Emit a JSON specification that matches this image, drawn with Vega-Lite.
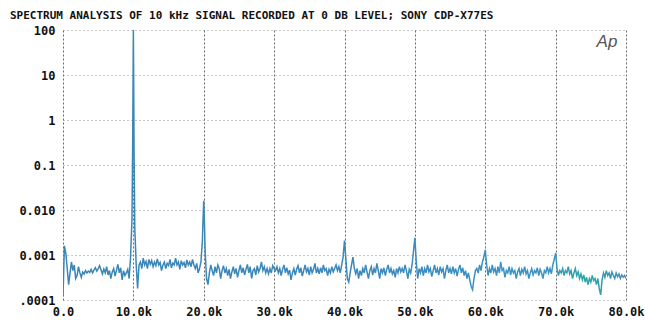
{
"$schema": "https://vega.github.io/schema/vega-lite/v6.json",
"width": 563, "height": 270,
"autosize": "none",
"padding": {"left": 63, "top": 30, "right": 19, "bottom": 24},
"background": "white",
"title": {"text": "SPECTRUM ANALYSIS OF 10 kHz SIGNAL RECORDED AT 0 DB LEVEL; SONY CDP-X77ES", "anchor": "start", "frame": "group", "dx": -53, "offset": 3, "font": "DejaVu Sans Mono", "fontSize": 11, "fontWeight": "bold", "color": "#111"},
"config": {"view": {"stroke": null}},
"layer": [
{
"data": {"values": [
{"f":0,"v":0.00012},{"f":200,"v":0.0016},{"f":400,"v":0.0011},{"f":600,"v":0.0005},{"f":800,"v":0.00022},{"f":1000,"v":0.0004},{"f":1200,"v":0.0007},{"f":1400,"v":0.00045},{"f":1600,"v":0.0006},{"f":1800,"v":0.0003},
{"f":2000,"v":0.00035},{"f":2200,"v":0.00055},{"f":2400,"v":0.0004},{"f":2600,"v":0.00032},{"f":2800,"v":0.00042},{"f":3000,"v":0.00038},{"f":3200,"v":0.00045},{"f":3400,"v":0.0004},{"f":3600,"v":0.00044},{"f":3800,"v":0.00041},
{"f":4000,"v":0.00048},{"f":4200,"v":0.0004},{"f":4400,"v":0.00046},{"f":4600,"v":0.00052},{"f":4800,"v":0.00044},{"f":5000,"v":0.0005},{"f":5200,"v":0.00058},{"f":5400,"v":0.00047},{"f":5600,"v":0.00038},{"f":5800,"v":0.00049},
{"f":6000,"v":0.0004},{"f":6200,"v":0.00055},{"f":6400,"v":0.00036},{"f":6600,"v":0.00045},{"f":6800,"v":0.0003},{"f":7000,"v":0.00042},{"f":7200,"v":0.0005},{"f":7400,"v":0.00034},{"f":7600,"v":0.00046},{"f":7800,"v":0.00062},
{"f":8000,"v":0.0004},{"f":8200,"v":0.00052},{"f":8400,"v":0.00028},{"f":8600,"v":0.00045},{"f":8800,"v":0.00035},{"f":9000,"v":0.0004},{"f":9200,"v":0.00048},{"f":9400,"v":0.0003},{"f":9600,"v":0.0009},{"f":9800,"v":0.006},
{"f":9900,"v":0.3},{"f":10000,"v":100},{"f":10100,"v":0.2},{"f":10200,"v":0.004},{"f":10400,"v":0.0006},{"f":10600,"v":0.00018},{"f":10800,"v":0.0006},
{"f":11000,"v":0.0007},{"f":11200,"v":0.0005},{"f":11400,"v":0.00085},{"f":11600,"v":0.0006},{"f":11800,"v":0.00072},{"f":12000,"v":0.0005},{"f":12200,"v":0.0008},{"f":12400,"v":0.00062},{"f":12600,"v":0.00075},{"f":12800,"v":0.00055},
{"f":13000,"v":0.0007},{"f":13200,"v":0.00058},{"f":13400,"v":0.00082},{"f":13600,"v":0.0006},{"f":13800,"v":0.00068},{"f":14000,"v":0.00045},{"f":14200,"v":0.0006},{"f":14400,"v":0.0007},{"f":14600,"v":0.0005},{"f":14800,"v":0.00065},
{"f":15000,"v":0.00058},{"f":15200,"v":0.0008},{"f":15400,"v":0.00052},{"f":15600,"v":0.00066},{"f":15800,"v":0.0006},{"f":16000,"v":0.00085},{"f":16200,"v":0.0006},{"f":16400,"v":0.0007},{"f":16600,"v":0.00048},{"f":16800,"v":0.00075},
{"f":17000,"v":0.0006},{"f":17200,"v":0.00068},{"f":17400,"v":0.00052},{"f":17600,"v":0.00078},{"f":17800,"v":0.0006},{"f":18000,"v":0.0007},{"f":18200,"v":0.00055},{"f":18400,"v":0.0008},{"f":18600,"v":0.0006},{"f":18800,"v":0.0005},
{"f":19000,"v":0.00065},{"f":19200,"v":0.0004},{"f":19400,"v":0.0005},{"f":19600,"v":0.0007},{"f":19800,"v":0.002},{"f":19900,"v":0.006},{"f":20000,"v":0.016},{"f":20100,"v":0.005},{"f":20200,"v":0.0012},{"f":20400,"v":0.0003},{"f":20600,"v":0.00022},
{"f":20800,"v":0.0004},{"f":21000,"v":0.0006},{"f":21200,"v":0.00045},{"f":21400,"v":0.00035},{"f":21600,"v":0.00055},{"f":21800,"v":0.0004},{"f":22000,"v":0.0006},{"f":22200,"v":0.0005},{"f":22400,"v":0.0003},{"f":22600,"v":0.00045},
{"f":22800,"v":0.00058},{"f":23000,"v":0.0004},{"f":23200,"v":0.0005},{"f":23400,"v":0.00035},{"f":23600,"v":0.00048},{"f":23800,"v":0.0003},{"f":24000,"v":0.00042},{"f":24200,"v":0.00055},{"f":24400,"v":0.00038},{"f":24600,"v":0.0005},
{"f":24800,"v":0.00032},{"f":25000,"v":0.00045},{"f":25200,"v":0.0006},{"f":25400,"v":0.0004},{"f":25600,"v":0.00052},{"f":25800,"v":0.00036},{"f":26000,"v":0.00048},{"f":26200,"v":0.00062},{"f":26400,"v":0.0004},{"f":26600,"v":0.00055},
{"f":26800,"v":0.0003},{"f":27000,"v":0.00045},{"f":27200,"v":0.0005},{"f":27400,"v":0.00036},{"f":27600,"v":0.00058},{"f":27800,"v":0.00042},{"f":28000,"v":0.0005},{"f":28200,"v":0.0007},{"f":28400,"v":0.00045},{"f":28600,"v":0.00055},
{"f":28800,"v":0.0004},{"f":29000,"v":0.0005},{"f":29200,"v":0.00038},{"f":29400,"v":0.0005},{"f":29600,"v":0.0004},{"f":29800,"v":0.00058},{"f":30000,"v":0.0005},{"f":30200,"v":0.00045},
{"f":30400,"v":0.00055},{"f":30600,"v":0.0004},{"f":30800,"v":0.0005},{"f":31000,"v":0.00035},{"f":31200,"v":0.00048},{"f":31400,"v":0.0006},{"f":31600,"v":0.0004},{"f":31800,"v":0.00052},{"f":32000,"v":0.00038},{"f":32200,"v":0.00046},
{"f":32400,"v":0.00028},{"f":32600,"v":0.0004},{"f":32800,"v":0.0005},{"f":33000,"v":0.00036},{"f":33200,"v":0.00048},{"f":33400,"v":0.00058},{"f":33600,"v":0.0004},{"f":33800,"v":0.00052},{"f":34000,"v":0.00034},{"f":34200,"v":0.00045},
{"f":34400,"v":0.0006},{"f":34600,"v":0.00042},{"f":34800,"v":0.0005},{"f":35000,"v":0.00036},{"f":35200,"v":0.00055},{"f":35400,"v":0.0004},{"f":35600,"v":0.00048},{"f":35800,"v":0.00065},{"f":36000,"v":0.0004},{"f":36200,"v":0.0005},
{"f":36400,"v":0.00038},{"f":36600,"v":0.00052},{"f":36800,"v":0.0004},{"f":37000,"v":0.0006},{"f":37200,"v":0.00045},{"f":37400,"v":0.0005},{"f":37600,"v":0.00035},{"f":37800,"v":0.00048},{"f":38000,"v":0.0004},{"f":38200,"v":0.00055},
{"f":38400,"v":0.00042},{"f":38600,"v":0.0005},{"f":38800,"v":0.0006},{"f":39000,"v":0.00045},{"f":39200,"v":0.00055},{"f":39400,"v":0.0004},{"f":39600,"v":0.0006},{"f":39800,"v":0.0009},{"f":40000,"v":0.0021},{"f":40200,"v":0.0008},{"f":40400,"v":0.0003},{"f":40600,"v":0.00025},
{"f":40800,"v":0.0004},{"f":41000,"v":0.0006},{"f":41200,"v":0.0009},{"f":41400,"v":0.0005},{"f":41600,"v":0.00038},{"f":41800,"v":0.0005},{"f":42000,"v":0.0003},{"f":42200,"v":0.00045},{"f":42400,"v":0.00035},{"f":42600,"v":0.0005},
{"f":42800,"v":0.0004},{"f":43000,"v":0.0006},{"f":43200,"v":0.00042},{"f":43400,"v":0.0003},{"f":43600,"v":0.00045},{"f":43800,"v":0.00055},{"f":44000,"v":0.00036},{"f":44200,"v":0.0005},{"f":44400,"v":0.0004},{"f":44600,"v":0.00065},
{"f":44800,"v":0.00045},{"f":45000,"v":0.0003},{"f":45200,"v":0.0005},{"f":45400,"v":0.0004},{"f":45600,"v":0.00052},{"f":45800,"v":0.00035},{"f":46000,"v":0.00048},{"f":46200,"v":0.0006},{"f":46400,"v":0.0004},{"f":46600,"v":0.0005},
{"f":46800,"v":0.00038},{"f":47000,"v":0.00045},{"f":47200,"v":0.00032},{"f":47400,"v":0.0005},{"f":47600,"v":0.0004},{"f":47800,"v":0.00055},{"f":48000,"v":0.00042},{"f":48200,"v":0.0005},{"f":48400,"v":0.0004},{"f":48600,"v":0.0006},
{"f":48800,"v":0.00045},{"f":49000,"v":0.0003},{"f":49200,"v":0.00048},{"f":49400,"v":0.0004},{"f":49600,"v":0.0006},{"f":49800,"v":0.0012},{"f":50000,"v":0.0024},{"f":50200,"v":0.0007},{"f":50400,"v":0.0003},{"f":50600,"v":0.0005},
{"f":50800,"v":0.0004},{"f":51000,"v":0.00055},{"f":51200,"v":0.00035},{"f":51400,"v":0.0005},{"f":51600,"v":0.0004},{"f":51800,"v":0.0006},{"f":52000,"v":0.00042},{"f":52200,"v":0.0005},{"f":52400,"v":0.00033},{"f":52600,"v":0.00045},
{"f":52800,"v":0.0006},{"f":53000,"v":0.0004},{"f":53200,"v":0.0005},{"f":53400,"v":0.00036},{"f":53600,"v":0.00055},{"f":53800,"v":0.00042},{"f":54000,"v":0.0005},{"f":54200,"v":0.0003},{"f":54400,"v":0.00045},{"f":54600,"v":0.0006},
{"f":54800,"v":0.0004},{"f":55000,"v":0.0005},{"f":55200,"v":0.00038},{"f":55400,"v":0.00055},{"f":55600,"v":0.0004},{"f":55800,"v":0.0005},{"f":56000,"v":0.00034},{"f":56200,"v":0.00048},{"f":56400,"v":0.0006},{"f":56600,"v":0.0004},
{"f":56800,"v":0.00052},{"f":57000,"v":0.00035},{"f":57200,"v":0.00045},{"f":57400,"v":0.0003},{"f":57600,"v":0.0004},{"f":57800,"v":0.00028},{"f":58000,"v":0.0002},{"f":58200,"v":0.00017},{"f":58400,"v":0.0003},{"f":58600,"v":0.00045},
{"f":58800,"v":0.0005},{"f":59000,"v":0.0004},{"f":59200,"v":0.0006},{"f":59400,"v":0.00045},{"f":59600,"v":0.0007},{"f":59800,"v":0.0009},{"f":60000,"v":0.0013},{"f":60200,"v":0.0006},{"f":60400,"v":0.00035},{"f":60600,"v":0.0005},
{"f":60800,"v":0.0004},{"f":61000,"v":0.0006},{"f":61200,"v":0.00042},{"f":61400,"v":0.0005},{"f":61600,"v":0.00035},{"f":61800,"v":0.00055},{"f":62000,"v":0.0004},{"f":62200,"v":0.0007},{"f":62400,"v":0.00045},{"f":62600,"v":0.0005},
{"f":62800,"v":0.00032},{"f":63000,"v":0.00045},{"f":63200,"v":0.0004},{"f":63400,"v":0.00055},{"f":63600,"v":0.00036},{"f":63800,"v":0.0005},{"f":64000,"v":0.0004},{"f":64200,"v":0.00045},{"f":64400,"v":0.0003},{"f":64600,"v":0.00042},
{"f":64800,"v":0.0005},{"f":65000,"v":0.00035},{"f":65200,"v":0.00048},{"f":65400,"v":0.0004},{"f":65600,"v":0.00055},{"f":65800,"v":0.00038},{"f":66000,"v":0.00045},{"f":66200,"v":0.0003},{"f":66400,"v":0.0004},{"f":66600,"v":0.0005},
{"f":66800,"v":0.00036},{"f":67000,"v":0.00045},{"f":67200,"v":0.0004},{"f":67400,"v":0.00052},{"f":67600,"v":0.00035},{"f":67800,"v":0.00048},{"f":68000,"v":0.0004},{"f":68200,"v":0.0003},{"f":68400,"v":0.00045},{"f":68600,"v":0.0004},
{"f":68800,"v":0.00055},{"f":69000,"v":0.0004},{"f":69200,"v":0.0005},{"f":69400,"v":0.00038},{"f":69600,"v":0.0006},{"f":69800,"v":0.0008},{"f":70000,"v":0.0011},{"f":70200,"v":0.0005},{"f":70400,"v":0.00035},{"f":70600,"v":0.00045},
{"f":70800,"v":0.0004},{"f":71000,"v":0.0005},{"f":71200,"v":0.00035},{"f":71400,"v":0.00045},{"f":71600,"v":0.0004},{"f":71800,"v":0.00055},{"f":72000,"v":0.00038},{"f":72200,"v":0.00045},{"f":72400,"v":0.0003},{"f":72600,"v":0.0004},
{"f":72800,"v":0.0005},{"f":73000,"v":0.00035},{"f":73200,"v":0.00042},{"f":73400,"v":0.0003},{"f":73600,"v":0.00038},{"f":73800,"v":0.00028},{"f":74000,"v":0.00036},{"f":74200,"v":0.00025},{"f":74400,"v":0.00032},{"f":74600,"v":0.00022},
{"f":74800,"v":0.0003},{"f":75000,"v":0.00025},{"f":75200,"v":0.00035},{"f":75400,"v":0.00027},{"f":75600,"v":0.0003},{"f":75800,"v":0.00022},{"f":76000,"v":0.0003},{"f":76200,"v":0.00018},{"f":76400,"v":0.00013},{"f":76600,"v":0.00028},
{"f":76800,"v":0.0004},{"f":77000,"v":0.00032},{"f":77200,"v":0.00045},{"f":77400,"v":0.00035},{"f":77600,"v":0.0004},{"f":77800,"v":0.0003},{"f":78000,"v":0.00042},{"f":78200,"v":0.00035},{"f":78400,"v":0.0003},{"f":78600,"v":0.0004},
{"f":78800,"v":0.00033},{"f":79000,"v":0.00038},{"f":79200,"v":0.0003},{"f":79400,"v":0.00036},{"f":79600,"v":0.00032},{"f":79800,"v":0.00035},{"f":80000,"v":0.0003}
]},
"mark": {"type": "line", "strokeWidth": 1.5, "interpolate": "linear", "clip": true,
  "color": {"gradient": "linear", "x1": 0, "x2": 1, "y1": 0, "y2": 0, "stops": [
    {"offset": 0, "color": "#3a86b4"}, {"offset": 0.5, "color": "#3b88bc"}, {"offset": 0.86, "color": "#3c93c4"}, {"offset": 0.93, "color": "#2aa8a4"}, {"offset": 1, "color": "#4a8cc0"}]}},
"encoding": {
  "x": {"field": "f", "type": "quantitative", "scale": {"domain": [0, 80000], "nice": false},
    "axis": {"title": null, "values": [0,10000,20000,30000,40000,50000,60000,70000,80000],
      "labelExpr": "datum.value == 0 ? '0.0' : format(datum.value/1000, '.1f') + 'k'",
      "domain": false, "ticks": false, "labelPadding": 6, "labelFont": "DejaVu Sans Mono", "labelFontSize": 12, "labelFontWeight": "bold", "labelColor": "#111",
      "grid": true, "gridColor": "#444", "gridDash": [2, 2], "gridWidth": 1, "gridOpacity": 0.8, "labelFlush": false}},
  "y": {"field": "v", "type": "quantitative", "scale": {"type": "log", "domain": [0.0001, 100], "nice": false},
    "axis": {"title": null, "values": [0.0001,0.001,0.01,0.1,1,10,100],
      "labelExpr": "datum.value < 0.0005 ? '.0001' : datum.value < 0.005 ? '0.001' : datum.value < 0.05 ? '0.010' : datum.value < 0.5 ? '0.1' : format(datum.value, 'd')",
      "domain": false, "ticks": false, "labelPadding": 8, "labelFont": "DejaVu Sans Mono", "labelFontSize": 12, "labelFontWeight": "bold", "labelColor": "#111",
      "grid": true, "gridColor": "#777", "gridDash": [1, 3], "gridWidth": 1, "gridOpacity": 0.8, "labelFlush": false}}
}
},
{
"data": {"values": [{"label": "Ap"}]},
"mark": {"type": "text", "font": "Liberation Sans", "fontStyle": "italic", "fontSize": 17, "color": "#555", "align": "center", "baseline": "middle"},
"encoding": {"x": {"datum": 77300, "type": "quantitative"}, "y": {"datum": 54, "type": "quantitative"}, "text": {"field": "label"}}
}
]
}
